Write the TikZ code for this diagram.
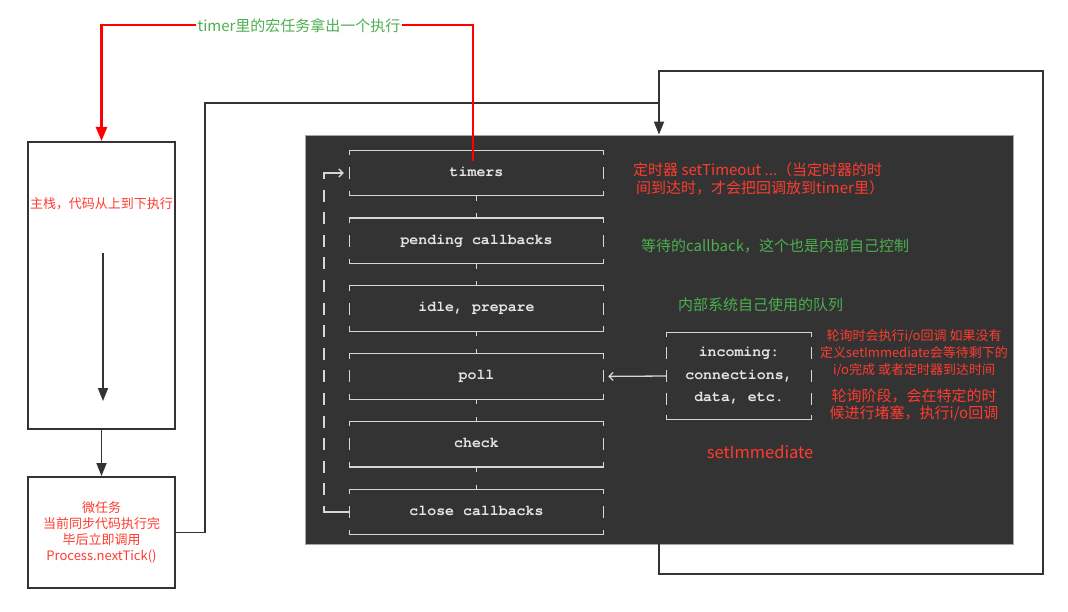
\documentclass[tikz,border=0pt]{standalone}
\usepackage{fontspec}
\setmainfont{Noto Sans CJK SC}
\newfontfamily\monofam{TeX Gyre Cursor}
\usetikzlibrary{arrows.meta}
\definecolor{boxc}{HTML}{333333}
\definecolor{panelc}{HTML}{333333}
\definecolor{redline}{HTML}{FF0000}
\definecolor{redtext}{HTML}{FF3B30}
\definecolor{greentext}{HTML}{4CAF50}
\definecolor{asciic}{HTML}{D6D6D6}
\definecolor{asciit}{HTML}{E4E4E4}
\newcommand\fs[2]{\fontsize{#1}{#2}\selectfont}
\begin{document}
\begin{tikzpicture}[x=1pt,y=-1pt,
  box/.style={draw=boxc, line width=2pt, fill=white, inner sep=0},
  conn/.style={draw=boxc, line width=1.8pt},
  tri/.style={-{Triangle[length=13pt,width=10pt]}},
  redl/.style={draw=redline, line width=2.4pt},
  ascii/.style={draw=asciic, line width=1.3pt},
  barb/.style={-{Straight Barb[length=4pt,width=8pt]}},
  phase/.style={minimum width=253pt, minimum height=45.2pt, inner sep=0, text=asciit,
    text height=9pt, text depth=2.5pt, font=\monofam\bfseries\fs{14.9}{18}},
  rtext/.style={text=redtext, inner sep=1pt},
  gtext/.style={text=greentext, inner sep=1pt, font=\fs{15}{18}}
]
\useasboundingbox (0,0) rectangle (1068,612);

% dark panel
\node[fill=panelc, draw=gray!70, line width=.8pt, minimum width=708pt, minimum height=409pt, inner sep=0] (panel) at (659,339.5) {};

% left boxes
\node[box, minimum width=147pt, minimum height=287pt] (main) at (101.5,285.5) {};
\node[rtext, font=\fs{13}{16}] (mainlbl) at (101.5,204) {主栈，代码从上到下执行};
\coordinate (s1) at (103,253);
\coordinate (s2) at (103,401);
\draw[conn, tri] (s1) -- (s2);

\node[box, minimum width=147pt, minimum height=111pt, text=redtext, align=center, font=\fs{13}{16}] (micro) at (101.5,532.5)
  {微任务\\当前同步代码执行完\\毕后立即调用\\Process.nextTick()};
\draw[conn, tri] (main.south) -- (micro.north);

% loops
\coordinate (lk) at (205,103);
\coordinate (jn) at (659,103);
\draw[conn] (micro.east) -| (lk) -- (jn);
\coordinate (c1) at (1043,574);
\coordinate (c2) at (1043,71);
\draw[conn, tri] (panel.south) |- (c1) -- (c2) -| (panel.north);

% phases
\node[phase] (timers)  at (476.5,173)   {timers};
\node[phase] (pending) at (476.5,240.8) {pending callbacks};
\node[phase] (idle)    at (476.5,308.6) {idle, prepare};
\node[phase] (poll)    at (476.5,376.4) {poll};
\node[phase] (check)   at (476.5,444.2) {check};
\node[phase] (close)   at (476.5,512)   {close callbacks};

\foreach \p in {timers,pending,idle,poll,check,close} {
  \draw[ascii] ([yshift=-5pt]\p.north west) -- (\p.north west) -- (\p.north east) -- ([yshift=-5pt]\p.north east);
  \draw[ascii] ([yshift=5pt]\p.south west) -- (\p.south west) -- (\p.south east) -- ([yshift=5pt]\p.south east);
  \draw[ascii] ([yshift=6pt]\p.west) -- ([yshift=-6pt]\p.west);
  \draw[ascii] ([yshift=6pt]\p.east) -- ([yshift=-6pt]\p.east);
}
\foreach \a/\b in {timers/pending,pending/idle,idle/poll,poll/check,check/close}
  \draw[ascii, dash pattern=on 5pt off 12.6pt] (\a.south) -- (\b.north);

% left loop of the phases
\coordinate (lt) at (324,173);
\coordinate (lb) at (324,512);
\draw[ascii, barb] ([yshift=-6pt]lt) -- (lt) -- ([xshift=-6pt]timers.west);
\draw[ascii] ([yshift=6pt]lb) -- (lb) -- (close.west);
\draw[ascii, dash pattern=on 12pt off 10.6pt] (324,189.6) -- (324,501);

% incoming box
\node[minimum width=144pt, minimum height=87pt, inner sep=0, text=asciit, align=center,
  font=\monofam\bfseries\fs{14.9}{22.6}] (incoming) at (739,376) {incoming:\\connections,\\data, etc.};
\draw[ascii] ([yshift=-5pt]incoming.north west) -- (incoming.north west) -- (incoming.north east) -- ([yshift=-5pt]incoming.north east);
\draw[ascii] ([yshift=5pt]incoming.south west) -- (incoming.south west) -- (incoming.south east) -- ([yshift=5pt]incoming.south east);
\foreach \o in {-22.6,0,22.6} {
  \draw[ascii] ([yshift=\o pt+6pt]incoming.west) -- ([yshift=\o pt-6pt]incoming.west);
  \draw[ascii] ([yshift=\o pt+6pt]incoming.east) -- ([yshift=\o pt-6pt]incoming.east);
}
\draw[ascii, barb] (incoming.west) -- ([xshift=5pt]poll.east);

% texts in the panel
\node[rtext, font=\fs{15}{18}, align=left, anchor=west] (timertxt) at (632,179)
  {定时器 setTimeout ...（当定时器的时\\\hspace{3pt}间到达时，才会把回调放到timer里）};
\node[gtext, anchor=west] (pendtxt) at (640,246) {等待的callback，这个也是内部自己控制};
\node[gtext, anchor=west] (idletxt) at (677,305) {内部系统自己使用的队列};
\node[rtext, font=\fs{13}{17}, align=center] (polltxt) at (914,353)
  {轮询时会执行i/o回调 如果没有\\定义setImmediate会等待剩下的\\i/o完成 或者定时器到达时间};
\node[rtext, font=\fs{15}{17}, align=center] (polltxtb) at (914,404.5)
  {轮询阶段，会在特定的时\\候进行堵塞，执行i/o回调};
\node[rtext, font=\fs{16.5}{18}] (checktxt) at (760,452) {setImmediate};

% red return line
\coordinate (rs) at (473,161);
\coordinate (rt) at (473,25);
\draw[redl, -{Triangle[length=14pt,width=11pt]}] (rs) -- (rt) -| (main.north);
\node[gtext, fill=white, inner xsep=2pt] (tlabel) at (299,26) {timer里的宏任务拿出一个执行};
\end{tikzpicture}
\end{document}
